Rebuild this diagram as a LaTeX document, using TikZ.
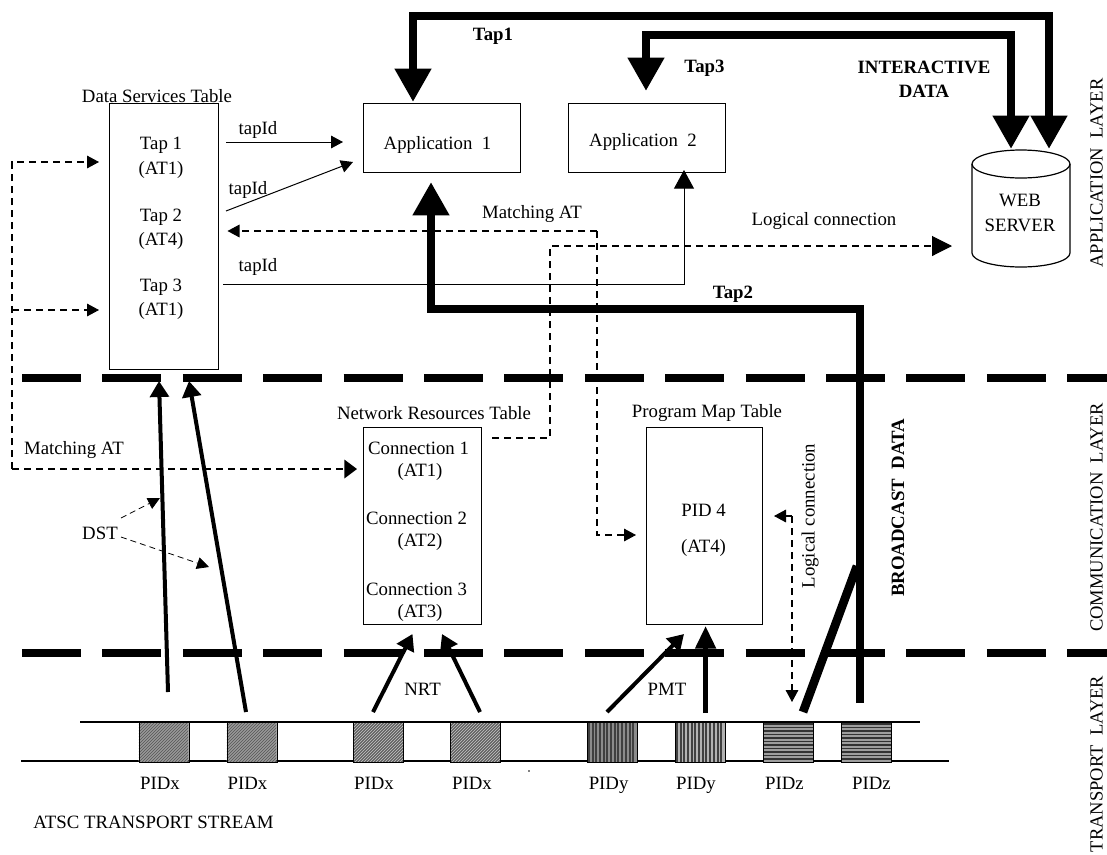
\documentclass[tikz,border=0pt]{standalone}
\usepackage{fontspec}
\setmainfont{Liberation Serif}
\usetikzlibrary{arrows.meta}
\tikzset{
  x=0.75pt,y=-0.75pt,
  txt/.style={inner sep=0pt,font=\fontsize{14.1}{16}\selectfont,align=center},
  btxt/.style={inner sep=0pt,font=\fontsize{14.1}{16}\selectfont\bfseries,align=center},
  layer/.style={inner sep=0pt,font=\fontsize{13.9}{16}\selectfont,rotate=90,anchor=base},
  boxn/.style={draw,line width=0.75pt,inner sep=0pt},
  thin arrow/.style={line width=0.75pt,-{Triangle[length=9pt,width=9.5pt]}},
  dash arrow/.style={line width=0.8pt,dash pattern=on 5.5pt off 3.5pt,-{Triangle[length=9pt,width=9.5pt]}},
  dash small/.style={line width=0.6pt,dash pattern=on 4.5pt off 3pt,-{Triangle[length=9pt,width=9pt]}},
  dash head/.style={line width=1.1pt,dash pattern=on 5.5pt off 3.5pt,-{Triangle[length=9.5pt,width=14pt]}},
  heavy/.style={line width=6.5pt,line join=miter,-{Triangle[length=25pt,width=26pt]}},
  medium/.style={line width=3pt,-{Triangle[length=12pt,width=14pt]}},
  layer line/.style={line width=6pt,dash pattern=on 44.25pt off 16.05pt},
  pidbox/.style={draw,line width=1.1pt,minimum width=37.5pt,minimum height=30pt,inner sep=0pt,anchor=north west},
}
\newcommand{\hatchx}[1]{\begin{scope}[shift={(#1,722)}]
  \clip (0,0) rectangle (50,40);
  \fill[black!62] (0,0) rectangle (50,40);
  \foreach \k in {0,3,...,93}{\draw[black!22,line width=0.5pt] (\k,0) -- (\k-40,40);}
  \end{scope}}
\newcommand{\hatchy}[2]{\begin{scope}[shift={(#1,722)}]
  \clip (0,0) rectangle (50,40);
  \fill[black!#2] (0,0) rectangle (50,40);
  \foreach \k/\w in {2/1.2,6/0.8,9/1.6,13/0.8,17/1.2,20/0.8,24/1.6,28/0.8,31/1.2,35/0.8,39/1.6,43/0.8,46/1.2}{\draw[black!75,line width=\w] (\k,0) -- (\k,40);}
  \end{scope}}
\newcommand{\hatchz}[1]{\begin{scope}[shift={(#1,722)}]
  \clip (0,0) rectangle (50,40);
  \fill[black!38] (0,0) rectangle (50,40);
  \foreach \k/\w in {2/1.4,5.5/1,9/1.4,12.5/1,16/1.4,19.5/1,23/1.4,26.5/1,30/1.4,33.5/1,37/1.6}{\draw[black!80,line width=\w] (0,\k) -- (50,\k);}
  \end{scope}}
\begin{document}
\begin{tikzpicture}
\useasboundingbox (0,0) rectangle (1107,854);
\fill[white] (0,0) rectangle (1107,854);

% layer lines
\coordinate (l1a) at (22,378); \coordinate (l1b) at (1107,378);
\coordinate (l2a) at (22,653); \coordinate (l2b) at (1107,653);
\draw[layer line] (l1a) -- (l1b);
\draw[layer line] (l2a) -- (l2b);

% boxes
\node[boxn,minimum width=81.75pt,minimum height=199.5pt] (ds) at (163.5,236) {};
\node[boxn,minimum width=118pt,minimum height=52pt] (app1) at (441.75,137.75) {};
\node[boxn,minimum width=117.75pt,minimum height=51.75pt] (app2) at (646.5,137.5) {};
\node[boxn,minimum width=88.5pt,minimum height=147.75pt] (nr) at (422,525.5) {};
\node[boxn,minimum width=87pt,minimum height=147.75pt] (pm) at (704,525.5) {};

% web server
\draw[line width=0.9pt] (972,164) -- (972,253) arc[start angle=180,end angle=0,x radius=49,y radius=14] -- (1070,164);
\draw[line width=0.9pt] (1021,164) ellipse[x radius=49,y radius=14];
\coordinate (webA) at (1011,149); \coordinate (webB) at (1049,149);
\node[txt] (web) at (1020,213) {WEB\\[2.5pt]SERVER};

% titles and texts
\node[txt] (tds) at (157,96) {Data Services Table};
\node[txt] (t1) at (161,145) {Tap 1}; \node[txt] (t1a) at (161,170) {(AT1)};
\node[txt] (t2) at (161,217) {Tap 2}; \node[txt] (t2a) at (161,241) {(AT4)};
\node[txt] (t3) at (161,287) {Tap 3}; \node[txt] (t3a) at (161,311) {(AT1)};
\node[txt] (a1) at (437.5,145) {Application\ \ 1};
\node[txt] (a2) at (643,142) {Application\ \ 2};
\node[txt] (tnr) at (434,413) {Network Resources Table};
\node[txt] (tpm) at (707,413) {Program Map Table};
\node[txt] (c1) at (418.5,448) {Connection 1}; \node[txt] (c1a) at (420,472) {(AT1)};
\node[txt] (c2) at (416.5,518) {Connection 2}; \node[txt] (c2a) at (420,542) {(AT2)};
\node[txt] (c3) at (416.5,589) {Connection 3}; \node[txt] (c3a) at (420,613) {(AT3)};
\node[txt] (p4) at (703.5,510) {PID 4}; \node[txt] (p4a) at (703.5,548) {(AT4)};
\node[txt] (ti1) at (258,130) {tapId};
\node[txt] (ti2) at (248,190) {tapId};
\node[txt] (ti3) at (258,267) {tapId};
\node[txt] (m1) at (532,214) {Matching AT};
\node[txt] (m2) at (74,450) {Matching AT};
\node[txt] (lc1) at (824,221) {Logical connection};
\node[txt,rotate=90] (lc2) at (810,516) {Logical connection};
\node[txt] (dst) at (100,533) {DST};
\node[txt] (nrt) at (422.5,689) {NRT};
\node[txt] (pmt) at (667,689) {PMT};
\node[txt] (atsc) at (153.5,822) {ATSC TRANSPORT STREAM};
\node[btxt] (tap1) at (493,36) {Tap1};
\node[btxt] (tap2) at (733,294) {Tap2};
\node[btxt] (tap3) at (704.5,68) {Tap3};
\node[btxt] (inter) at (924,79) {INTERACTIVE\\[2pt]DATA};
\node[btxt,rotate=90] (bd) at (898,508) {BROADCAST\ \ DATA};
\node[layer] (la1) at (1102.5,173) {APPLICATION\ \ LAYER};
\node[layer] (la2) at (1102.5,517.5) {COMMUNICATION\ \ LAYER};
\node[layer] (la3) at (1102.5,764) {TRANSPORT\ \ LAYER};

% stream
\coordinate (s1a) at (80,722); \coordinate (s1b) at (919.5,722);
\coordinate (s2a) at (21,761); \coordinate (s2b) at (948.6,761);
\draw[line width=0.8pt] (s1a) -- (s1b);
\draw[line width=0.8pt] (s2a) -- (s2b);
\hatchx{138.5}\hatchx{226.5}\hatchx{353}\hatchx{450}
\hatchy{587}{45}\hatchy{675}{30}
\hatchz{763}\hatchz{841}
\foreach \n/\xx/\lab/\lx in {x1/138.5/PIDx/160,x2/226.5/PIDx/247.5,x3/353/PIDx/374,x4/450/PIDx/472,y1/587/PIDy/608.6,y2/675/PIDy/696,z1/763/PIDz/784.5,z2/841/PIDz/871.5}{
  \node[pidbox] (\n) at (\xx,722) {};
  \node[txt,anchor=base] (lab\n) at (\lx,789) {\lab};
}
\coordinate (dot) at (529,771);
\fill (dot) circle (0.6pt);

% heavy interactive paths
\coordinate (h1a) at (1049,16); \coordinate (h1b) at (413,16); \coordinate (app1top) at (413,102);
\coordinate (h3a) at (1011,35); \coordinate (h3b) at (646,35); \coordinate (app2top) at (646,91);
\draw[heavy] (h1b) -- (h1a) -- (webB);
\draw[heavy] (h1a) -- (h1b) -- (app1top);
\draw[heavy] (h3b) -- (h3a) -- (webA);
\draw[heavy] (h3a) -- (h3b) -- (app2top);

% heavy broadcast path
\coordinate (b0) at (860,703); \coordinate (b1) at (860,309); \coordinate (b2) at (431,309); \coordinate (app1bot) at (431,182);
\coordinate (bz) at (803,712); \coordinate (bj) at (857,566);
\draw[heavy] (b0) -- (b1) -- (b2) -- (app1bot);
\draw[line width=6.5pt] (bz) -- (bj);

% tapId arrows
\coordinate (i1a) at (226,142); \coordinate (i1b) at (343,142);
\coordinate (i2a) at (226,211); \coordinate (i2b) at (353,162);
\coordinate (i3a) at (223,284); \coordinate (i3b) at (684,284); \coordinate (i3c) at (684,170);
\draw[thin arrow] (i1a) -- (i1b);
\draw[thin arrow] (i2a) -- (i2b);
\draw[line width=0.75pt,-{Triangle[length=14pt,width=15pt]}] (i3a) -- (i3b) -- (i3c);

% dashed feedback
\coordinate (dl) at (12,469); \coordinate (dl1) at (12,162); \coordinate (dl2) at (12,310);
\coordinate (dt1) at (99,162); \coordinate (dt2) at (99,310); \coordinate (dc1) at (357,469);
\draw[dash arrow] (dl) -- (dl1) -- (dt1);
\draw[dash arrow] (dl2) -- (dt2);
\draw[dash head] (dl) -- (dc1);

% matching AT
\coordinate (mr) at (597,231); \coordinate (mt) at (227.5,231); \coordinate (md) at (597,535); \coordinate (mp) at (636,535);
\draw[dash arrow] (mr) -- (mt);
\draw[dash arrow] (mr) -- (md) -- (mp);

% logical connection
\coordinate (lg0) at (492,438); \coordinate (lg1) at (550,438); \coordinate (lg2) at (550,246); \coordinate (lg3) at (952,246);
\draw[line width=0.8pt,dash pattern=on 5.5pt off 3.5pt,-{Triangle[length=15pt,width=15pt]}] (lg0) -- (lg1) -- (lg2) -- (lg3);
\coordinate (lv0) at (792,516); \coordinate (lv1) at (774,516); \coordinate (lv2) at (792,702);
\draw[line width=0.8pt,-{Triangle[length=9pt,width=9.5pt]}] (lv0) -- (lv1);
\draw[dash arrow] (lv0) -- (lv2);

% DST
\coordinate (dsa) at (121,518); \coordinate (dsb) at (160,498); \coordinate (dsc) at (121,537); \coordinate (dsd) at (209,567);
\draw[dash small] (dsa) -- (dsb);
\draw[dash small] (dsc) -- (dsd);

% medium arrows
\coordinate (p1) at (168,692); \coordinate (p1t) at (159,381);
\coordinate (p2) at (246,712); \coordinate (p2t) at (189,381);
\coordinate (n1) at (373,712); \coordinate (n1t) at (412.5,634);
\coordinate (n2) at (480,712); \coordinate (n2t) at (442,634);
\coordinate (m3) at (607,712); \coordinate (m3t) at (684,634);
\coordinate (m4) at (705.6,713); \coordinate (m4t) at (705.6,626);
\draw[medium] (p1) -- (p1t);
\draw[medium] (p2) -- (p2t);
\draw[medium] (n1) -- (n1t);
\draw[medium] (n2) -- (n2t);
\draw[medium] (m3) -- (m3t);
\draw[line width=3.75pt,-{Triangle[length=17pt,width=15pt]}] (m4) -- (m4t);
\end{tikzpicture}
\end{document}
